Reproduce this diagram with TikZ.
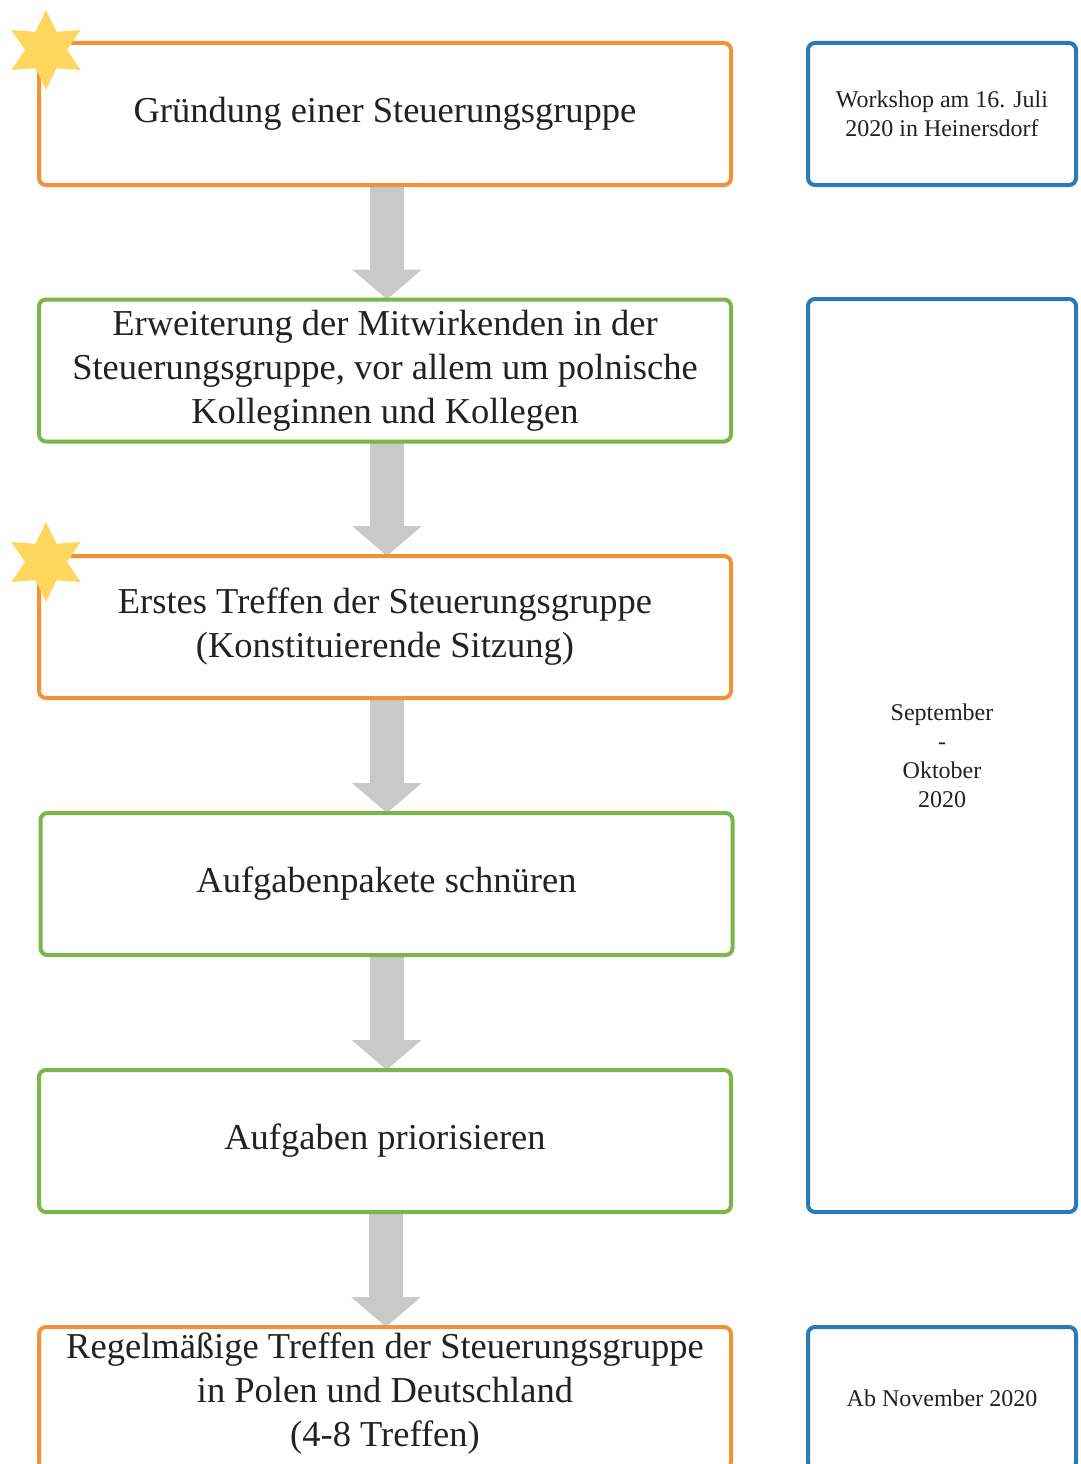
\documentclass[tikz,border=0pt]{standalone}
\usepackage{fontspec}
\setmainfont{Liberation Serif}
\usetikzlibrary{shapes.geometric,arrows.meta,backgrounds}
\definecolor{boxorange}{HTML}{F0923A}
\definecolor{boxgreen}{HTML}{7AB648}
\definecolor{boxblue}{HTML}{2A7AB8}
\definecolor{arrowgray}{HTML}{C9C9C9}
\definecolor{stargold}{HTML}{FFD75E}
\definecolor{inktext}{HTML}{222222}
\tikzset{
  stage/.style={draw, line width=4pt, rounded corners=7pt, fill=white,
    minimum width=692pt, minimum height=142pt, inner sep=0pt, outer sep=0pt,
    align=center, text=inktext, font=\fontsize{36.5}{44}\selectfont},
  orangebox/.style={stage, draw=boxorange},
  greenbox/.style={stage, draw=boxgreen},
  datebox/.style={draw=boxblue, line width=4pt, rounded corners=7pt, fill=white,
    minimum width=268pt, inner sep=0pt, outer sep=0pt,
    align=center, text=inktext, font=\fontsize{24}{29}\selectfont},
  flowarrow/.style={draw=arrowgray, line width=34pt,
    -{Triangle[width=68pt,length=30pt,fill=arrowgray]}},
  badge/.style={star, star points=6, star point ratio=1.9, minimum size=80pt,
    fill=stargold, inner sep=0pt}
}
\begin{document}
\begin{tikzpicture}[x=1pt,y=-1pt]
\useasboundingbox (0,0) rectangle (1080,1464);
\clip (0,0) rectangle (1080,1464);
% main sequence of steps
\node[orangebox] (s1) at (385,114) {Gründung einer Steuerungsgruppe};
\node[greenbox]  (s2) at (385,370.5) {Erweiterung der Mitwirkenden in der\\Steuerungsgruppe, vor allem um polnische\\Kolleginnen und Kollegen};
\node[orangebox] (s3) at (385,627) {Erstes Treffen der Steuerungsgruppe\\(Konstituierende Sitzung)};
\node[greenbox]  (s4) at (386.5,884) {Aufgabenpakete schnüren};
\node[greenbox]  (s5) at (385,1141) {Aufgaben priorisieren};
\node[orangebox, text depth=16pt] (s6) at (385,1398) {Regelmäßige Treffen der Steuerungsgruppe\\in Polen und Deutschland\\(4-8 Treffen)};
% time frames
\node[datebox, minimum height=142pt] (d1) at (942,114) {Workshop am 16. Juli\\2020 in Heinersdorf};
\node[datebox, minimum height=913pt] (d2) at (942,755.5) {September\\-\\Oktober\\2020};
\node[datebox, minimum height=142pt] (d3) at (942,1398) {Ab November 2020};
% milestone markers
\node[badge] (m1) at (46,50) {};
\node[badge] (m3) at (46,562) {};
% connectors between steps
\begin{scope}[on background layer]
\draw[flowarrow] (s1.south) ++(2,0) coordinate (a1) -- (a1 |- s2.north);
\draw[flowarrow] (s2.south) ++(2,0) coordinate (a2) -- (a2 |- s3.north);
\draw[flowarrow] (s3.south) ++(2,0) coordinate (a3) -- (a3 |- s4.north);
\draw[flowarrow] (s4.south) coordinate (a4) -- (a4 |- s5.north);
\draw[flowarrow] (s5.south) ++(1,0) coordinate (a5) -- (a5 |- s6.north);
\end{scope}
\end{tikzpicture}
\end{document}
